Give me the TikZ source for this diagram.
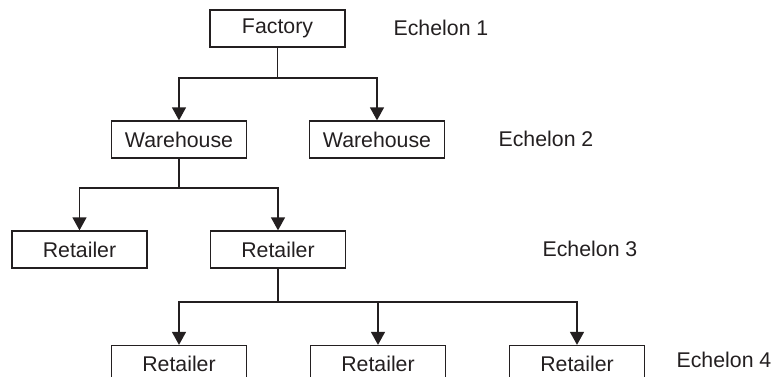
\documentclass[tikz,border=0pt]{standalone}
\usepackage{fontspec}
\setmainfont{Liberation Sans}
\usetikzlibrary{arrows.meta}
\definecolor{ink}{HTML}{231F20}
\begin{document}
\begin{tikzpicture}[x=1pt,y=-1pt,
  box/.style={draw=ink,line width=1.3pt,minimum width=135pt,minimum height=37pt,inner sep=0pt,font=\fontsize{21.3}{25}\selectfont,text=ink},
  lbl/.style={font=\fontsize{21.3}{25}\selectfont,text=ink,inner sep=0pt},
  conn/.style={draw=ink,line width=1.3pt},
  arr/.style={conn,-{Triangle[length=13pt,width=14pt]}}]
\useasboundingbox (0,0) rectangle (776,376);
\clip (0,0) rectangle (776,376);
\node[box] (F) at (277.5,28.5) {Factory};
\node[box] (W1) at (179,139.5) {Warehouse};
\node[box] (W2) at (377,139.5) {Warehouse};
\node[box] (R1) at (79.5,249.5) {Retailer};
\node[box] (R2) at (278,249.5) {Retailer};
\node[box] (S1) at (179,364) {Retailer};
\node[box] (S2) at (378,364) {Retailer};
\node[box] (S3) at (577,364) {Retailer};
\node[lbl] (E1) at (441,28) {Echelon 1};
\node[lbl] (E2) at (546,139) {Echelon 2};
\node[lbl] (E3) at (590,249) {Echelon 3};
\node[lbl] (E4) at (724,360) {Echelon 4};
\coordinate (j1) at (277.5,78);
\coordinate (j2) at (179,188);
\coordinate (j3) at (278,302);
\draw[conn] (F.south) -- (j1);
\draw[arr] (j1) -| (W1.north);
\draw[arr] (j1) -| (W2.north);
\draw[conn] (W1.south) -- (j2);
\draw[arr] (j2) -| (R1.north);
\draw[arr] (j2) -| (R2.north);
\draw[conn] (R2.south) -- (j3);
\draw[arr] (j3) -| (S1.north);
\draw[arr] (j3) -| (S2.north);
\draw[arr] (j3) -| (S3.north);
\end{tikzpicture}
\end{document}
